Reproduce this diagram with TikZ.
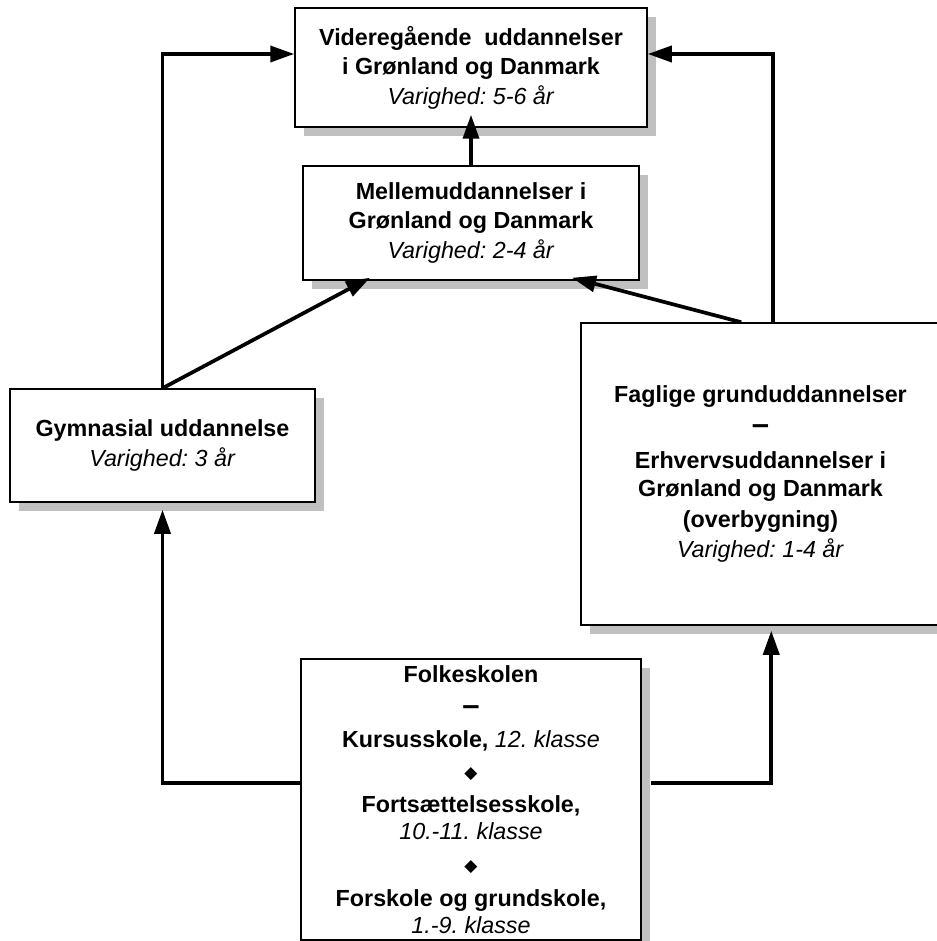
\documentclass[tikz,border=0pt]{standalone}
\usepackage{fontspec}
\setmainfont{Liberation Sans}
\newfontfamily\dejavu{DejaVu Sans}
\usetikzlibrary{arrows.meta,shadows,calc}
\definecolor{shadowgray}{HTML}{C0C0C0}
\newcommand{\dia}{\raisebox{0.5pt}{\dejavu\fontsize{17}{17}\selectfont ◆}}
\newcommand{\bigdash}{\raisebox{-1.5pt}{\fontsize{31}{31}\selectfont\bfseries –}}
\frenchspacing
\begin{document}
\begin{tikzpicture}[x=1pt,y=-1pt,
  box/.style={draw=black, line width=1.5pt, fill=white, inner sep=0pt, align=center,
    font=\fontsize{23.3}{29}\selectfont\frenchspacing,
    drop shadow={shadow xshift=9pt, shadow yshift=-9pt, fill=shadowgray, opacity=1}},
  conn/.style={line width=3.7pt, -{Triangle[length=24pt,width=16pt]}}]
\useasboundingbox (0,0) rectangle (936,941);

\node[box, minimum width=352pt, minimum height=119pt] (top) at (471,67.5)
  {\textbf{Videregående\hspace{0.55em}uddannelser}\\ \textbf{i Grønland og Danmark}\\[1pt] \textit{Varighed: 5-6 år}};
\node[box, minimum width=336pt, minimum height=114pt] (mid) at (471,223)
  {\textbf{Mellemuddannelser i}\\ \textbf{Grønland og Danmark}\\[1pt] \textit{Varighed: 2-4 år}};
\node[box, minimum width=305pt, minimum height=113pt] (gym) at (162.5,445.5)
  {\textbf{Gymnasial uddannelse}\\[1pt] \textit{Varighed: 3 år}};
\node[box, minimum width=359pt, minimum height=302pt] (fag) at (760.5,474)
  {\textbf{Faglige grunduddannelser}\\[1pt] \bigdash\\[7pt] \textbf{Erhvervsuddannelser i}\\[-1pt] \textbf{Grønland og Danmark}\\[2pt] \textbf{(overbygning)}\\[1pt] \textit{Varighed: 1-4 år}};
\node[box, minimum width=340pt, minimum height=281pt, font=\fontsize{23.3}{27}\selectfont\frenchspacing] (folk) at (471,799.5)
  {\textbf{Folkeskolen}\\[5pt] \bigdash\\[6pt] \textbf{Kursusskole,} \textit{12. klasse}\\[5pt] \dia\\[6pt] \textbf{Fortsættelsesskole,}\\ \textit{10.-11. klasse}\\[6pt] \dia\\[7pt] \textbf{Forskole og grundskole,}\\ \textit{1.-9. klasse}};

\coordinate (tl) at ($(top.west)+(0,-13.5)$);
\coordinate (tr) at ($(top.east)+(0,-13.5)$);
\coordinate (fagtop) at ($(fag.north west)+(193,0)$);
\coordinate (fagdiag) at ($(fag.north west)+(161,0)$);
\coordinate (folkl) at ($(folk.west)+(0,-16.5)$);
\coordinate (folkr) at ($(folk.east)+(9,-16.5)$);

\draw[conn] (gym.north) |- (tl);
\draw[conn] (fagtop) |- (tr);
\draw[conn] (mid.north) -- ($(top.south)+(0,-13)$);
\draw[conn] (gym.north) -- ($(mid.south)+(-101,-3)$);
\draw[conn] (fagdiag) -- ($(mid.south)+(101,-3)$);
\draw[conn] (folkl) -| ($(gym.south)+(0,7)$);
\draw[conn] (folkr) -| ($(fag.south west)+(191,5)$);
\end{tikzpicture}
\end{document}
